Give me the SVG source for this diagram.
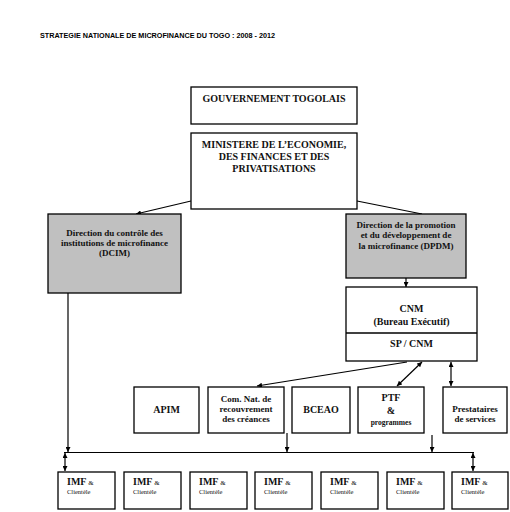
<svg xmlns="http://www.w3.org/2000/svg" width="510" height="512" viewBox="0 0 510 512">
<style>
.box{fill:#fff;stroke:#000;stroke-width:1.3}
.gray{fill:#c0c0c0;stroke:#000;stroke-width:1.3}
.t{font-family:"Liberation Serif","Times New Roman",serif;font-weight:bold;fill:#111;text-anchor:middle}
.s10{font-size:10px}
.s9{font-size:9px}
.con{stroke:#000;stroke-width:1.2;fill:none}
.imf{font-family:"Liberation Serif","Times New Roman",serif;fill:#111}
</style>
<defs>
<marker id="ah" viewBox="0 0 10 10" refX="10" refY="5" markerWidth="5" markerHeight="5" orient="auto-start-reverse" markerUnits="userSpaceOnUse">
<path d="M0,0 L10,5 L0,10 Z" fill="#000"/>
</marker>
</defs>
<rect width="510" height="512" fill="#fff"/>
<text x="40" y="38" font-family="Liberation Sans,Arial,sans-serif" font-size="6.3" font-weight="bold" fill="#000" textLength="235" lengthAdjust="spacingAndGlyphs">STRATEGIE NATIONALE DE MICROFINANCE DU TOGO : 2008  - 2012</text>

<g id="connectors">
<line class="con" x1="191" y1="201" x2="136" y2="214" marker-end="url(#ah)"/>
<line class="con" x1="357" y1="201" x2="422" y2="214"/>
<line class="con" x1="406" y1="278" x2="406" y2="287" marker-end="url(#ah)"/>
<line class="con" x1="407" y1="362" x2="257" y2="386" marker-end="url(#ah)"/>
<line class="con" x1="422" y1="362" x2="397" y2="386" marker-start="url(#ah)" marker-end="url(#ah)"/>
<line class="con" x1="451" y1="362" x2="451" y2="386" stroke-width="2" marker-start="url(#ah)" marker-end="url(#ah)"/>
<line class="con" x1="68" y1="293" x2="68" y2="452" marker-end="url(#ah)"/>
<line class="con" x1="64" y1="452.5" x2="474" y2="452.5"/>
<line class="con" x1="287" y1="433" x2="287" y2="452" marker-end="url(#ah)"/>
<line class="con" x1="432" y1="435" x2="432" y2="452" marker-end="url(#ah)"/>
<line class="con" x1="65" y1="453" x2="65" y2="471" stroke-width="1.6" marker-start="url(#ah)" marker-end="url(#ah)"/>
<line class="con" x1="473" y1="453" x2="473" y2="471" stroke-width="1.6" marker-start="url(#ah)" marker-end="url(#ah)"/>
</g>

<g id="gouv">
<rect class="box" x="191" y="87" width="166" height="37"/>
<text class="t s10" x="274" y="102">GOUVERNEMENT TOGOLAIS</text>
</g>
<g id="ministere">
<rect class="box" x="191" y="133" width="166" height="76"/>
<text class="t s10" x="274" y="148">MINISTERE DE L’ECONOMIE,</text>
<text class="t s10" x="274" y="160">DES FINANCES ET DES</text>
<text class="t s10" x="274" y="172">PRIVATISATIONS</text>
</g>
<g id="dcim">
<rect class="gray" x="48" y="214" width="133" height="79"/>
<text class="t s9" x="114.5" y="236">Direction du contrôle des</text>
<text class="t s9" x="114.5" y="246">institutions de microfinance</text>
<text class="t s9" x="114.5" y="256">(DCIM)</text>
</g>
<g id="dpdm">
<rect class="gray" x="346" y="214" width="120" height="64"/>
<text class="t s9" x="406" y="228">Direction de la promotion</text>
<text class="t s9" x="406" y="238">et du développement de</text>
<text class="t s9" x="406" y="249">la microfinance (DPDM)</text>
</g>
<g id="cnm">
<rect class="box" x="346" y="287" width="131" height="74"/>
<line x1="346" y1="333" x2="477" y2="333" stroke="#000" stroke-width="1.3"/>
<text class="t s10" x="411.5" y="312">CNM</text>
<text class="t s10" x="411.5" y="325">(Bureau Exécutif)</text>
<text class="t s10" x="411.5" y="347">SP / CNM</text>
</g>
<g id="apim">
<rect class="box" x="134" y="387" width="65" height="46"/>
<text class="t s10" x="166.5" y="413">APIM</text>
</g>
<g id="comnat">
<rect class="box" x="208" y="387" width="76" height="46"/>
<text class="t s9" x="246" y="402">Com. Nat. de</text>
<text class="t s9" x="246" y="412">recouvrement</text>
<text class="t s9" x="246" y="422">des créances</text>
</g>
<g id="bceao">
<rect class="box" x="292" y="387" width="58" height="46"/>
<text class="t s10" x="321" y="413">BCEAO</text>
</g>
<g id="ptf">
<rect class="box" x="358" y="387" width="66" height="46"/>
<text class="t s10" x="391" y="401">PTF</text>
<text class="t s10" x="391" y="414">&amp;</text>
<text class="t" font-size="7.5" x="391" y="425">programmes</text>
</g>
<g id="prestataires">
<rect class="box" x="443" y="387" width="64" height="46"/>
<text class="t s9" x="475" y="412">Prestataires</text>
<text class="t s9" x="475" y="422">de services</text>
</g>

<g id="imf1"><rect class="box" x="58" y="472" width="57" height="37"/><text class="imf" x="67" y="485"><tspan font-weight="bold" font-size="10">IMF</tspan><tspan font-size="7"> &amp;</tspan></text><text class="imf" x="67" y="494" font-size="6.5">Clientèle</text></g>
<g id="imf2"><rect class="box" x="124" y="472" width="57" height="37"/><text class="imf" x="133" y="485"><tspan font-weight="bold" font-size="10">IMF</tspan><tspan font-size="7"> &amp;</tspan></text><text class="imf" x="133" y="494" font-size="6.5">Clientèle</text></g>
<g id="imf3"><rect class="box" x="190" y="472" width="57" height="37"/><text class="imf" x="199" y="485"><tspan font-weight="bold" font-size="10">IMF</tspan><tspan font-size="7"> &amp;</tspan></text><text class="imf" x="199" y="494" font-size="6.5">Clientèle</text></g>
<g id="imf4"><rect class="box" x="255" y="472" width="57" height="37"/><text class="imf" x="264" y="485"><tspan font-weight="bold" font-size="10">IMF</tspan><tspan font-size="7"> &amp;</tspan></text><text class="imf" x="264" y="494" font-size="6.5">Clientèle</text></g>
<g id="imf5"><rect class="box" x="321" y="472" width="57" height="37"/><text class="imf" x="330" y="485"><tspan font-weight="bold" font-size="10">IMF</tspan><tspan font-size="7"> &amp;</tspan></text><text class="imf" x="330" y="494" font-size="6.5">Clientèle</text></g>
<g id="imf6"><rect class="box" x="387" y="472" width="57" height="37"/><text class="imf" x="396" y="485"><tspan font-weight="bold" font-size="10">IMF</tspan><tspan font-size="7"> &amp;</tspan></text><text class="imf" x="396" y="494" font-size="6.5">Clientèle</text></g>
<g id="imf7"><rect class="box" x="452" y="472" width="56" height="37"/><text class="imf" x="461" y="485"><tspan font-weight="bold" font-size="10">IMF</tspan><tspan font-size="7"> &amp;</tspan></text><text class="imf" x="461" y="494" font-size="6.5">Clientèle</text></g>
</svg>
